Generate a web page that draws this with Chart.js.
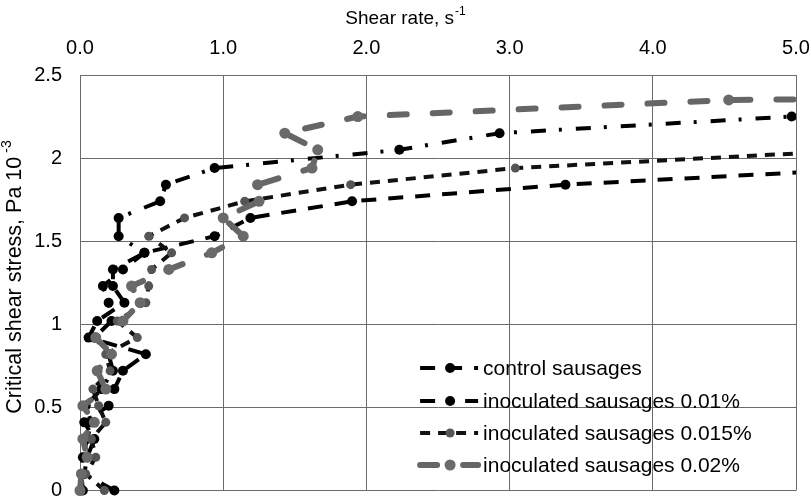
<!DOCTYPE html>
<html><head><meta charset="utf-8">
<script src="https://cdn.jsdelivr.net/npm/chart.js@4.4.0/dist/chart.umd.min.js"></script>
<style>html,body{margin:0;padding:0;background:#fff;}#wrap{width:811px;height:496px;position:relative;}</style>
</head><body><div id="wrap"><canvas id="c" width="811" height="496"></canvas></div>
<script>
// ---- data ----
const seriesNames = ['control sausages', 'inoculated sausages 0.01%', 'inoculated sausages 0.015%', 'inoculated sausages 0.02%'];

const controlX = [0.24, 0.03, 0.05, 0.10, 0.03, 0.20, 0.24, 0.30, 0.46, 0.06, 0.12, 0.31, 0.23, 0.23, 0.45, 0.94, 1.19, 1.90, 3.39, 5.60];
const controlY = [0.00, 0.10, 0.20, 0.31, 0.41, 0.51, 0.61, 0.72, 0.82, 0.92, 1.02, 1.13, 1.23, 1.33, 1.43, 1.53, 1.64, 1.74, 1.84, 1.94];

const inoc001X = [0.02, 0.01, 0.02, 0.05, 0.08, 0.04, 0.15, 0.23, 0.20, 0.10, 0.22, 0.20, 0.16, 0.30, 0.45, 0.27, 0.27, 0.56, 0.60, 0.94, 2.23, 2.93, 4.97];
const inoc001Y = [0.00, 0.10, 0.20, 0.31, 0.41, 0.51, 0.61, 0.72, 0.82, 0.92, 1.02, 1.13, 1.23, 1.33, 1.43, 1.53, 1.64, 1.74, 1.84, 1.94, 2.05, 2.15, 2.25];

const inoc0015X = [0.17, 0.04, 0.11, 0.08, 0.18, 0.13, 0.09, 0.21, 0.18, 0.40, 0.26, 0.46, 0.48, 0.50, 0.64, 0.48, 0.73, 1.15, 1.89, 3.04, 5.50];
const inoc0015Y = [0.00, 0.10, 0.20, 0.31, 0.41, 0.51, 0.61, 0.72, 0.82, 0.92, 1.02, 1.13, 1.23, 1.33, 1.43, 1.53, 1.64, 1.74, 1.84, 1.94, 2.05];

const inoc002X = [0.00, 0.01, 0.05, 0.02, 0.10, 0.02, 0.18, 0.12, 0.22, 0.11, 0.30, 0.42, 0.36, 0.62, 0.92, 1.14, 1.00, 1.25, 1.24, 1.62, 1.66, 1.43, 1.94, 4.53, 6.00];
const inoc002Y = [0.00, 0.10, 0.20, 0.31, 0.41, 0.51, 0.61, 0.72, 0.82, 0.92, 1.02, 1.13, 1.23, 1.33, 1.43, 1.53, 1.64, 1.74, 1.84, 1.94, 2.05, 2.15, 2.25, 2.35, 2.36];

const xTickLabels = ['0.0', '1.0', '2.0', '3.0', '4.0', '5.0'];
const yTickLabels = ['0', '0.5', '1', '1.5', '2', '2.5'];
const xTitleText = 'Shear rate, s';
const xTitleSup = '-1';
const yTitleText = 'Critical shear stress, Pa 10';
const yTitleSup = '-3';

// ---- build ----
function pts(xs, ys) { return xs.map((x, i) => ({ x: x, y: ys[i] })); }
const FONT = '"Liberation Sans", Arial, sans-serif';
const clipArea = { left: 12, top: 12, right: 0, bottom: 12 };

const datasets = [
  { label: seriesNames[0], data: pts(controlX, controlY), borderColor: '#000', borderWidth: 4, borderDash: [15, 12],
    pointRadius: 5, pointBackgroundColor: '#000', pointBorderWidth: 0, order: 4 },
  { label: seriesNames[1], data: pts(inoc001X, inoc001Y), borderColor: '#000', borderWidth: 4, borderDash: [15, 13, 3, 14],
    pointRadius: 5, pointBackgroundColor: '#000', pointBorderWidth: 0, order: 3 },
  { label: seriesNames[2], data: pts(inoc0015X, inoc0015Y), borderColor: '#111', borderWidth: 4, borderDash: [10, 8],
    pointRadius: 4.5, pointBackgroundColor: '#555', pointBorderWidth: 0, order: 2 },
  { label: seriesNames[3], data: pts(inoc002X, inoc002Y), borderColor: '#666', borderWidth: 6, borderDash: [17, 26], borderCapStyle: 'round',
    pointRadius: 5.5, pointBackgroundColor: '#6a6a6a', pointBorderWidth: 0, order: 1 }
].map(d => Object.assign({ showLine: true, tension: 0, fill: false, clip: clipArea, pointHoverRadius: 0 }, d));

const legendAndTitles = {
  id: 'legendAndTitles',
  afterDraw(chart) {
    const ctx = chart.ctx;
    const ca = chart.chartArea;
    // legend (inside plot, lower right)
    const lx = ca.left + (ca.right - ca.left) * 0.475;
    const rows = [368, 401, 433, 465];
    chart.data.datasets.forEach((ds, i) => {
      const y = rows[i];
      ctx.save();
      ctx.strokeStyle = ds.borderColor;
      ctx.lineWidth = ds.borderWidth;
      ctx.lineCap = ds.borderCapStyle || 'butt';
      ctx.setLineDash(ds.borderDash);
      ctx.beginPath(); ctx.moveTo(lx, y); ctx.lineTo(lx + 58, y); ctx.stroke();
      ctx.setLineDash([]);
      ctx.fillStyle = ds.pointBackgroundColor;
      ctx.beginPath(); ctx.arc(lx + 30, y, ds.pointRadius, 0, Math.PI * 2); ctx.fill();
      ctx.fillStyle = '#000';
      ctx.font = '21px ' + FONT;
      ctx.textBaseline = 'middle'; ctx.textAlign = 'left';
      ctx.fillText(ds.label, lx + 63, y + 1);
      ctx.restore();
    });
    // x axis title (top)
    ctx.save();
    ctx.fillStyle = '#000';
    ctx.textBaseline = 'middle'; ctx.textAlign = 'left';
    ctx.font = '19px ' + FONT;
    const w1 = ctx.measureText(xTitleText).width;
    ctx.font = '12px ' + FONT;
    const w2 = ctx.measureText(xTitleSup).width;
    let x0 = 405 - (w1 + w2) / 2;
    ctx.font = '19px ' + FONT;
    ctx.fillText(xTitleText, x0, 19);
    ctx.font = '12px ' + FONT;
    ctx.fillText(xTitleSup, x0 + w1 + 1, 12);
    ctx.restore();
    // y axis title (rotated)
    ctx.save();
    ctx.translate(15, 277);
    ctx.rotate(-Math.PI / 2);
    ctx.fillStyle = '#000';
    ctx.textBaseline = 'middle'; ctx.textAlign = 'left';
    ctx.font = '21.5px ' + FONT;
    const v1 = ctx.measureText(yTitleText).width;
    ctx.font = '14px ' + FONT;
    const v2 = ctx.measureText(yTitleSup).width;
    const y0 = -(v1 + v2 + 4) / 2;
    ctx.font = '21.5px ' + FONT;
    ctx.fillText(yTitleText, y0, 0);
    ctx.font = '14px ' + FONT;
    ctx.fillText(yTitleSup, y0 + v1 + 4, -8);
    ctx.restore();
  }
};

new Chart(document.getElementById('c'), {
  type: 'scatter',
  data: { datasets: datasets },
  options: {
    responsive: false, animation: false, devicePixelRatio: 1,
    layout: { padding: { left: 0, top: 0, right: 15, bottom: 4 } },
    plugins: { legend: { display: false }, tooltip: { enabled: false } },
    scales: {
      x: {
        type: 'linear', position: 'top', min: 0, max: 5,
        ticks: { stepSize: 1, autoSkip: false, maxRotation: 0, padding: 15, color: '#000',
          font: { family: FONT, size: 20 }, callback: v => xTickLabels[Math.round(v)] },
        grid: { color: '#6b6b6b', lineWidth: 1, drawTicks: false },
        border: { display: true, color: '#6b6b6b' },
        afterFit: s => { s.height = 75; s.paddingLeft = 0; s.paddingRight = 0; s.paddingTop = 0; s.paddingBottom = 0; }
      },
      y: {
        type: 'linear', position: 'left', min: 0, max: 2.5,
        ticks: { stepSize: 0.5, autoSkip: false, padding: 18, color: '#000',
          font: { family: FONT, size: 20 }, callback: v => yTickLabels[Math.round(v * 2)] },
        grid: { color: '#6b6b6b', lineWidth: 1, drawTicks: false },
        border: { display: true, color: '#6b6b6b' },
        afterFit: s => { s.width = 80; s.paddingLeft = 0; s.paddingRight = 0; s.paddingTop = 0; s.paddingBottom = 0; }
      }
    }
  },
  plugins: [legendAndTitles]
});
</script></body></html>
